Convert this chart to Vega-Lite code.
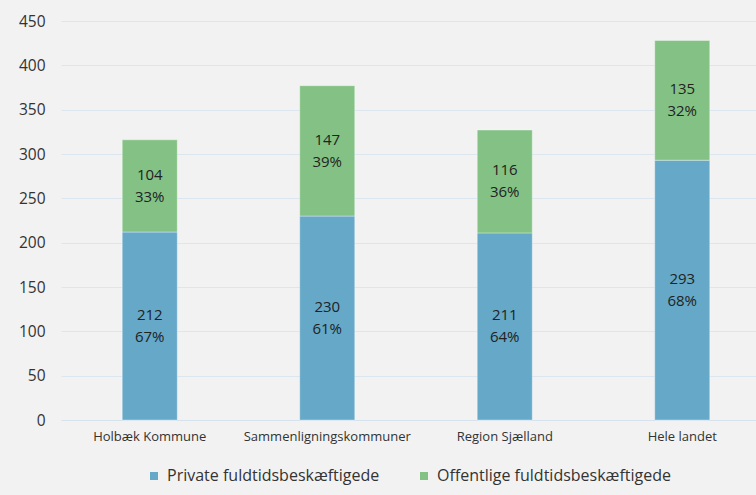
{
  "$schema": "https://vega.github.io/schema/vega-lite/v6.json",
  "width": 695,
  "height": 399,
  "autosize": {"type": "none"},
  "padding": {"left": 61, "top": 21, "right": 0, "bottom": 75},
  "background": "#f2f2f2",
  "config": {
    "view": {"stroke": null},
    "font": "Open Sans",
    "legend": {"layout": {"bottom": {"anchor": "middle"}}}
  },
  "data": {
    "values": [
      {"omr": "Holbæk Kommune", "type": "Private fuldtidsbeskæftigede", "ord": 0, "value": 212, "pct": 67},
      {"omr": "Holbæk Kommune", "type": "Offentlige fuldtidsbeskæftigede", "ord": 1, "value": 104, "pct": 33},
      {"omr": "Sammenligningskommuner", "type": "Private fuldtidsbeskæftigede", "ord": 0, "value": 230, "pct": 61},
      {"omr": "Sammenligningskommuner", "type": "Offentlige fuldtidsbeskæftigede", "ord": 1, "value": 147, "pct": 39},
      {"omr": "Region Sjælland", "type": "Private fuldtidsbeskæftigede", "ord": 0, "value": 211, "pct": 64},
      {"omr": "Region Sjælland", "type": "Offentlige fuldtidsbeskæftigede", "ord": 1, "value": 116, "pct": 36},
      {"omr": "Hele landet", "type": "Private fuldtidsbeskæftigede", "ord": 0, "value": 293, "pct": 68},
      {"omr": "Hele landet", "type": "Offentlige fuldtidsbeskæftigede", "ord": 1, "value": 135, "pct": 32}
    ]
  },
  "transform": [
    {"stack": "value", "groupby": ["omr"], "sort": [{"field": "ord", "order": "ascending"}], "as": ["y0", "y1"]},
    {"calculate": "(datum.y0 + datum.y1) / 2", "as": "ymid"},
    {"calculate": "datum.value + '\\n' + datum.pct + '%'", "as": "label"}
  ],
  "encoding": {
    "x": {
      "field": "omr",
      "type": "nominal",
      "sort": ["Holbæk Kommune", "Sammenligningskommuner", "Region Sjælland", "Hele landet"],
      "scale": {"range": [0, 710], "paddingInner": 0.69, "paddingOuter": 0.345},
      "axis": {
        "title": null,
        "labelAngle": 0,
        "labelFontSize": 13,
        "labelColor": "#333333",
        "labelPadding": 10,
        "ticks": false,
        "domainColor": "#d6e2ed",
        "grid": false
      }
    }
  },
  "layer": [
    {
      "mark": {"type": "bar", "stroke": "#ffffff", "strokeOpacity": 0.35, "strokeWidth": 1},
      "encoding": {
        "y": {
          "field": "y0",
          "type": "quantitative",
          "scale": {"domain": [0, 450]},
          "axis": {
            "title": null,
            "values": [0, 50, 100, 150, 200, 250, 300, 350, 400, 450],
            "labelFontSize": 15.5,
            "labelColor": "#333333",
            "labelPadding": 16,
            "ticks": false,
            "domain": false,
            "gridColor": "#dbe6ef",
            "gridWidth": 1
          }
        },
        "y2": {"field": "y1"},
        "color": {
          "field": "type",
          "type": "nominal",
          "sort": ["Private fuldtidsbeskæftigede", "Offentlige fuldtidsbeskæftigede"],
          "scale": {"domain": ["Private fuldtidsbeskæftigede", "Offentlige fuldtidsbeskæftigede"], "range": ["#65a8c8", "#83c284"]},
          "legend": {
            "title": null,
            "orient": "bottom",
            "direction": "horizontal",
            "symbolType": "square",
            "symbolSize": 64,
            "symbolStrokeWidth": 0,
            "labelFontSize": 16,
            "labelLimit": 0,
            "labelColor": "#333333",
            "labelOffset": 5,
            "columnPadding": 36,
            "offset": 25
          }
        }
      }
    },
    {
      "mark": {"type": "text", "fontSize": 15, "color": "#222222", "lineBreak": "\n", "lineHeight": 22, "baseline": "middle", "align": "center", "dy": -11},
      "encoding": {
        "y": {"field": "ymid", "type": "quantitative"},
        "text": {"field": "label"}
      }
    }
  ]
}
